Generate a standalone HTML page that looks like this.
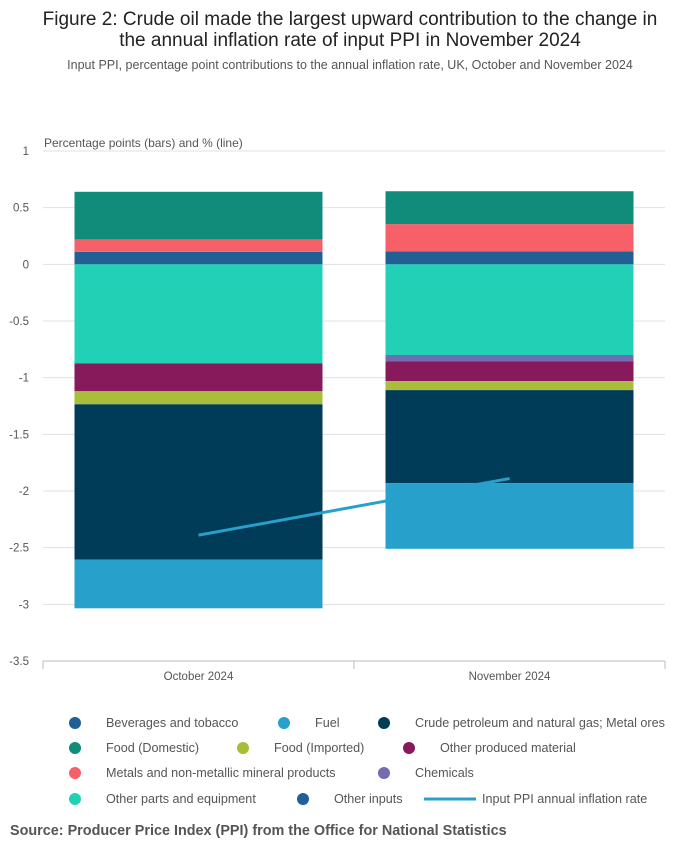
<!DOCTYPE html>
<html><head><meta charset="utf-8"><style>
body{margin:0;background:#fff;font-family:"Liberation Sans",sans-serif;}
svg text{font-family:"Liberation Sans",sans-serif;}
</style></head><body>
<svg id="chart" width="700" height="857" xmlns="http://www.w3.org/2000/svg">
<text x="350" y="25" text-anchor="middle" font-size="19" fill="#222">Figure 2: Crude oil made the largest upward contribution to the change in</text>
<text x="350" y="46" text-anchor="middle" font-size="19" fill="#222">the annual inflation rate of input PPI in November 2024</text>
<text x="350" y="69" text-anchor="middle" font-size="12.5" fill="#555">Input PPI, percentage point contributions to the annual inflation rate, UK, October and November 2024</text>
<text x="44" y="147" font-size="12" fill="#555">Percentage points (bars) and % (line)</text>
<g id="grid"></g><g id="bars"></g><g id="line"></g><g id="axis"></g>
<g id="legend" font-size="12.6" fill="#555"></g>
<text x="10" y="835" font-size="14.4" font-weight="bold" fill="#555">Source: Producer Price Index (PPI) from the Office for National Statistics</text>
</svg>
<script>
const categories=["October 2024","November 2024"];
const seriesNames=["Beverages and tobacco","Metals and non-metallic mineral products","Food (Domestic)","Other parts and equipment","Chemicals","Other produced material","Food (Imported)","Crude petroleum and natural gas; Metal ores","Fuel","Other inputs"];
const seriesColors=["#206095","#f66068","#118c7b","#22d0b6","#746cb1","#871a5b","#a8bd3a","#003c57","#27a0cc","#206095"];
const bevTobacco=[0.11,0.115];
const metals=[0.11,0.24];
const foodDomestic=[0.42,0.29];
const otherParts=[-0.875,-0.80];
const chemicals=[0,-0.055];
const otherProduced=[-0.245,-0.175];
const foodImported=[-0.115,-0.08];
const crude=[-1.37,-0.82];
const fuel=[-0.43,-0.58];
const otherInputs=[0,0];
const inflationRate=[-2.39,-1.89];
const yTicks=[1,0.5,0,-0.5,-1,-1.5,-2,-2.5,-3,-3.5];
const seriesValues=[bevTobacco,metals,foodDomestic,otherParts,chemicals,otherProduced,foodImported,crude,fuel,otherInputs];

const NS="http://www.w3.org/2000/svg";
const X0=43,X1=665,Y0=151,Y1=661,YMAX=1,YMIN=-3.5;
const y=v=>Y0+(YMAX-v)/(YMAX-YMIN)*(Y1-Y0);
const band=(X1-X0)/categories.length;
const xc=i=>X0+band*(i+0.5);
const bw=248;
function mk(tag,attrs,parent){const e=document.createElementNS(NS,tag);for(const k in attrs)e.setAttribute(k,attrs[k]);parent.appendChild(e);return e;}
const grid=document.getElementById('grid'),bars=document.getElementById('bars'),ax=document.getElementById('axis'),ln=document.getElementById('line'),lg=document.getElementById('legend');
yTicks.forEach(t=>{
  if(t!==YMIN){const g=mk('line',{x1:X0,x2:X1,y1:y(t),y2:y(t),stroke:'#e0e0e0','stroke-width':1},grid);
  
  }
  const tx=mk('text',{x:29,y:y(t)+4,'text-anchor':'end','font-size':11.5,fill:'#555'},ax);tx.textContent=String(t);
  
  
});
categories.forEach((c,i)=>{
  let pos=0,neg=0;
  seriesValues.forEach((arr,s)=>{
    const v=arr[i];if(!v)return;
    let a,b;
    if(v>0){a=pos;b=pos+v;pos=b;}else{a=neg;b=neg+v;neg=b;}
    const r=mk('rect',{x:xc(i)-bw/2,y:Math.min(y(a),y(b)),width:bw,height:Math.abs(y(a)-y(b)),fill:seriesColors[s]},bars);
    
    
  });
  const tl=mk('text',{x:xc(i),y:680,'text-anchor':'middle','font-size':11.5,fill:'#555'},ax);tl.textContent=c;
  
  
});
const al=mk('line',{x1:X0,x2:X1,y1:Y1,y2:Y1,stroke:'#bbb'},ax);


for(let i=0;i<=categories.length;i++){const tk=mk('line',{x1:X0+band*i,x2:X0+band*i,y1:Y1,y2:Y1+8,stroke:'#bbb'},ax);

}
const pl=mk('polyline',{points:inflationRate.map((v,i)=>xc(i)+','+y(v)).join(' '),fill:'none',stroke:'#27a0cc','stroke-width':3},ln);


const legItems=[[0,75,723],[8,284,723],[7,384,723],[2,75,748],[6,243,748],[5,409,748],[1,75,773],[4,384,773],[3,75,799],[9,303,799]];
legItems.forEach(([s,x,yy])=>{
  const g=mk('g',{},lg);
  
  
  mk('circle',{cx:x,cy:yy,r:6,fill:seriesColors[s]},g);
  const t=mk('text',{x:x+31,y:yy+4},g);t.textContent=seriesNames[s];
});
const lgl=mk('g',{},lg);


mk('line',{x1:424,x2:476,y1:799,y2:799,stroke:'#27a0cc','stroke-width':3},lgl);
const lt=mk('text',{x:482,y:803},lgl);lt.textContent="Input PPI annual inflation rate";
</script>
</body></html>
